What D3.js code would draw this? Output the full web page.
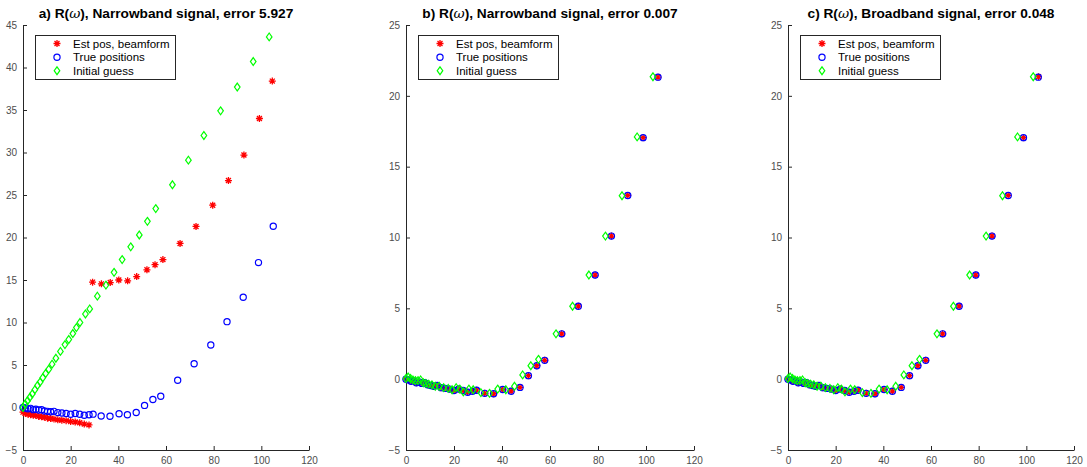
<!DOCTYPE html>
<html>
<head>
<meta charset="utf-8">
<script src="https://cdn.jsdelivr.net/npm/d3@7"></script>
<style>
  html, body { margin: 0; padding: 0; background: #fff; }
  svg { display: block; }
  text { font-family: "Liberation Sans", Helvetica, Arial, sans-serif; }
</style>
</head>
<body>
<svg id="fig" width="1087" height="467"></svg>
<script>
// Tick values shared by the three panels
const xTicks = [0, 20, 40, 60, 80, 100, 120];
const yTicksA = [-5, 0, 5, 10, 15, 20, 25, 30, 35, 40, 45];
const yTicksBC = [-5, 0, 5, 10, 15, 20, 25];

const panelTitles = [
  ["a) R(", "), Narrowband signal, error 5.927"],
  ["b) R(", "), Narrowband signal, error 0.007"],
  ["c) R(", "), Broadband signal, error 0.048"]
];
const legendLabels = ["Est pos, beamform", "True positions", "Initial guess"];

// True sensor positions (same in all panels)
const trueX = [0, 1.0, 2.1, 3.2, 4.3, 5.4, 6.6, 7.8, 9.0, 10.3, 11.6, 13.0, 14.6, 16.3, 18.1, 20.0, 21.9, 23.8, 25.7, 27.7,
               29.4, 32.8, 36.5, 40.3, 43.8, 47.5, 51.0, 54.5, 57.8, 64.9, 71.8, 78.8, 85.6, 92.4, 98.8, 105.0];
const trueY = [0, -0.05, -0.15, -0.1, -0.25, -0.2, -0.3, -0.25, -0.4, -0.45, -0.5, -0.45, -0.6, -0.65, -0.7, -0.8, -0.7, -0.8, -0.92, -0.86,
               -0.78, -1.0, -1.03, -0.73, -0.85, -0.58, 0.25, 0.95, 1.33, 3.2, 5.15, 7.35, 10.1, 12.97, 17.05, 21.32];

// Initial guess, panel a (straight line start)
const guessAX = [0, 0.9, 1.9, 2.9, 3.9, 5.0, 6.1, 7.2, 8.3, 9.5, 10.8, 12.2, 13.8, 15.7, 17.6, 19.2, 20.9, 22.4, 23.9, 26.2,
                 28.0, 31.2, 34.8, 38.2, 41.6, 45.2, 48.8, 52.2, 55.7, 62.7, 69.4, 75.9, 82.9, 89.9, 96.6, 103.3];
const guessAY = [0, 0.4, 0.8, 1.2, 1.6, 2.1, 2.6, 3.0, 3.5, 4.0, 4.5, 5.1, 5.8, 6.6, 7.4, 8.0, 8.7, 9.4, 10.0, 11.0,
                 11.6, 13.1, 14.4, 15.9, 17.4, 18.9, 20.3, 21.9, 23.4, 26.2, 29.1, 32.0, 34.9, 37.7, 40.7, 43.6];

// Initial guess, panels b and c
const guessBX = [0, 0.9, 1.9, 2.9, 3.9, 5.0, 6.1, 7.2, 8.3, 9.5, 10.8, 12.2, 13.8, 15.7, 17.6, 19.2, 20.9, 22.4, 23.9, 26.2,
                 28.0, 31.2, 34.8, 38.2, 41.6, 45.2, 48.6, 52.0, 55.2, 62.5, 69.4, 76.2, 83.1, 90.0, 96.3, 102.9];
const guessBY = [0.05, 0.15, 0.05, -0.05, -0.1, -0.1, -0.05, -0.25, -0.3, -0.35, -0.4, -0.5, -0.5, -0.6, -0.65, -0.75, -0.6, -0.7, -0.9, -0.7,
                 -0.75, -0.95, -1.0, -0.7, -0.75, -0.5, 0.3, 0.95, 1.4, 3.2, 5.15, 7.35, 10.1, 12.95, 17.1, 21.35];

// Beamforming estimates, panel a
const estAX = [0, 1.0, 2.1, 3.2, 4.3, 5.4, 6.6, 7.8, 9.0, 10.3, 11.6, 13.0, 14.6, 16.3, 18.1, 20.0, 21.9, 23.8, 25.7, 27.7,
               29.2, 32.9, 36.6, 40.2, 43.9, 47.7, 52.0, 55.4, 58.7, 65.9, 72.6, 79.6, 86.2, 92.7, 99.2, 104.6];
const estAY = [-0.55, -0.7, -0.8, -0.85, -0.9, -0.95, -1.05, -1.1, -1.15, -1.25, -1.3, -1.35, -1.45, -1.5, -1.55, -1.65, -1.7, -1.8, -1.95, -2.05,
               14.75, 14.55, 14.7, 15.0, 14.9, 15.4, 16.2, 16.8, 17.4, 19.3, 21.3, 23.8, 26.7, 29.7, 34.0, 38.4];

// Beamforming estimates, panel b
const estBX = [0, 1.0, 2.1, 3.2, 4.3, 5.4, 6.6, 7.8, 9.0, 10.3, 11.6, 13.0, 14.6, 16.3, 18.1, 20.0, 21.9, 23.8, 25.7, 27.7,
               29.4, 32.8, 36.5, 40.3, 43.8, 47.5, 51.0, 54.5, 57.8, 64.9, 71.8, 78.8, 85.6, 92.4, 98.8, 105.0];
const estBY = [0, -0.05, -0.15, -0.1, -0.25, -0.2, -0.3, -0.25, -0.4, -0.45, -0.5, -0.45, -0.6, -0.65, -0.7, -0.8, -0.7, -0.8, -0.92, -0.86,
               -0.78, -1.0, -1.03, -0.73, -0.85, -0.58, 0.25, 0.95, 1.33, 3.2, 5.15, 7.35, 10.1, 12.97, 17.05, 21.32];

// Beamforming estimates, panel c
const estCX = [0, 1.0, 2.1, 3.2, 4.3, 5.4, 6.6, 7.8, 9.0, 10.3, 11.6, 13.0, 14.6, 16.3, 18.1, 20.0, 21.9, 23.8, 25.7, 27.7,
               29.4, 32.8, 36.5, 40.3, 43.8, 47.5, 51.0, 54.5, 57.8, 64.9, 71.8, 78.8, 85.6, 92.4, 98.8, 105.1];
const estCY = [0, -0.05, -0.15, -0.1, -0.25, -0.2, -0.3, -0.25, -0.4, -0.45, -0.5, -0.45, -0.6, -0.65, -0.7, -0.8, -0.7, -0.8, -0.92, -0.86,
               -0.78, -1.0, -1.03, -0.73, -0.85, -0.58, 0.25, 0.95, 1.33, 3.2, 5.15, 7.35, 10.1, 12.97, 17.05, 21.35];

const zip = (xs, ys) => xs.map((x, i) => [x, ys[i]]);

const panels = [
  { left: 23,  width: 286, yDomain: [-5, 45], yTicks: yTicksA,
    est: zip(estAX, estAY), truth: zip(trueX, trueY), guess: zip(guessAX, guessAY) },
  { left: 406, width: 288, yDomain: [-5, 25], yTicks: yTicksBC,
    est: zip(estBX, estBY), truth: zip(trueX, trueY), guess: zip(guessBX, guessBY) },
  { left: 788, width: 286, yDomain: [-5, 25], yTicks: yTicksBC,
    est: zip(estCX, estCY), truth: zip(trueX, trueY), guess: zip(guessBX, guessBY) }
];

const plotTop = 25, plotBottom = 450;
const axisColor = "#262626";
const tickTextColor = "#4d4d4d";

const svg = d3.select("#fig");

// Marker glyphs
function starPath(s) {
  const d = s * Math.SQRT1_2;
  return `M${-s},0L${s},0M0,${-s}L0,${s}M${-d},${-d}L${d},${d}M${-d},${d}L${d},${-d}`;
}
function diamondPath(w, h) {
  return `M0,${-h}L${w},0L0,${h}L${-w},0Z`;
}

function drawStar(g, x, y) {
  g.append("path").attr("d", starPath(3.5))
    .attr("transform", `translate(${x},${y})`)
    .attr("fill", "none").attr("stroke", "#ff0000").attr("stroke-width", 1.3);
}
function drawCircle(g, x, y) {
  g.append("circle").attr("cx", x).attr("cy", y).attr("r", 3.1)
    .attr("fill", "none").attr("stroke", "#0000ff").attr("stroke-width", 1.2);
}
function drawDiamond(g, x, y) {
  g.append("path").attr("d", diamondPath(2.8, 3.9))
    .attr("transform", `translate(${x},${y})`)
    .attr("fill", "none").attr("stroke", "#00ff00").attr("stroke-width", 1.2);
}

panels.forEach((p, idx) => {
  const x = d3.scaleLinear().domain([0, 120]).range([p.left, p.left + p.width]);
  const y = d3.scaleLinear().domain(p.yDomain).range([plotBottom, plotTop]);
  const g = svg.append("g");

  // Axes with inward ticks, box off
  const xAxis = d3.axisBottom(x).tickValues(xTicks).tickSizeInner(-4).tickSizeOuter(0).tickPadding(7);
  const yAxis = d3.axisLeft(y).tickValues(p.yTicks).tickSizeInner(-4).tickSizeOuter(0).tickPadding(6);

  const gx = g.append("g").attr("transform", `translate(0,${plotBottom})`).call(xAxis);
  const gy = g.append("g").attr("transform", `translate(${p.left},0)`).call(yAxis);
  [gx, gy].forEach(a => {
    a.select(".domain").attr("stroke", axisColor).attr("stroke-width", 1);
    a.selectAll(".tick line").attr("stroke", axisColor);
    a.selectAll(".tick text").attr("fill", tickTextColor)
      .style("font-size", "10px").style("font-family", "'Liberation Sans', Helvetica, Arial, sans-serif");
  });
  gx.selectAll(".tick text").attr("dy", "0.71em");

  // Data markers: estimates, true positions, initial guess
  const marks = g.append("g");
  p.est.forEach(d => drawStar(marks, x(d[0]), y(d[1])));
  p.truth.forEach(d => drawCircle(marks, x(d[0]), y(d[1])));
  p.guess.forEach(d => drawDiamond(marks, x(d[0]), y(d[1])));

  // Title
  const cx = p.left + p.width / 2;
  const t = g.append("text").attr("x", cx).attr("y", 18).attr("text-anchor", "middle")
    .style("font-size", "13.7px").style("font-weight", "bold").attr("fill", "#000");
  t.append("tspan").text(panelTitles[idx][0]);
  t.append("tspan").style("font-weight", "normal").style("font-style", "italic")
    .style("font-family", "'DejaVu Serif', serif").text("\u03c9");
  t.append("tspan").text(panelTitles[idx][1]);

  // Legend
  const lx = p.left + 12, ly = 35, lw = 140, lh = 44;
  const lg = g.append("g");
  lg.append("rect").attr("x", lx + 0.5).attr("y", ly + 0.5).attr("width", lw).attr("height", lh)
    .attr("fill", "#fff").attr("stroke", axisColor).attr("stroke-width", 1);
  const rows = [8.5, 22.3, 35.7];
  const drawers = [drawStar, drawCircle, drawDiamond];
  legendLabels.forEach((lab, i) => {
    drawers[i](lg, lx + 22, ly + rows[i]);
    lg.append("text").attr("x", lx + 38).attr("y", ly + rows[i]).attr("dy", "0.35em")
      .style("font-size", "11.5px").attr("fill", "#000").text(lab);
  });
});
</script>
</body>
</html>
